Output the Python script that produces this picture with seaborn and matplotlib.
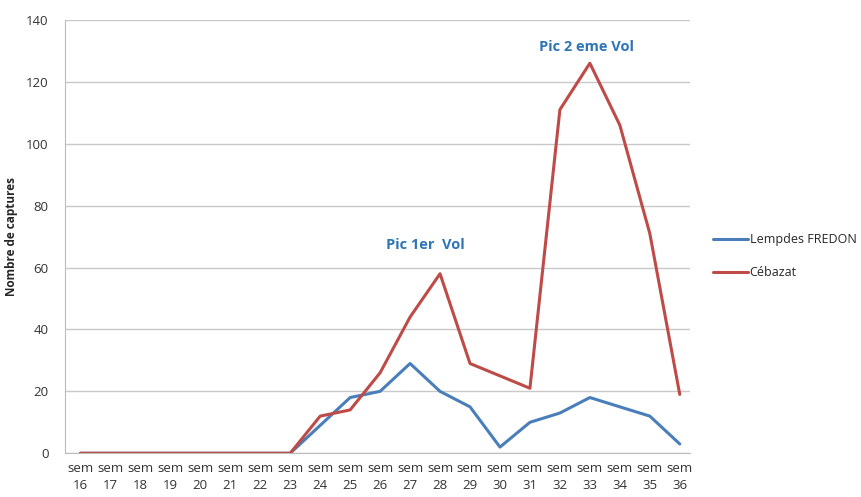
import pandas as pd
import matplotlib.pyplot as plt
import seaborn as sns

weeks = list(range(16, 37))
lempdes = [0, 0, 0, 0, 0, 0, 0, 0, 9, 18, 20, 29, 20, 15, 2, 10, 13, 18, 15, 12, 3]
cebazat = [0, 0, 0, 0, 0, 0, 0, 0, 12, 14, 26, 44, 58, 29, 25, 21, 111, 126, 106, 71, 19]
series_names = ['Lempdes FREDON', 'Cébazat']

df = pd.DataFrame({
    'Semaine': weeks * 2,
    'Captures': lempdes + cebazat,
    'Site': [series_names[0]] * len(weeks) + [series_names[1]] * len(weeks),
})

sns.set_style('white')
plt.rcParams['font.family'] = ['Open Sans', 'DejaVu Sans']

fig, ax = plt.subplots(figsize=(8.61, 4.97), dpi=100)
fig.subplots_adjust(left=0.076, right=0.801, top=0.96, bottom=0.088)

sns.lineplot(data=df, x='Semaine', y='Captures', hue='Site',
             palette=['#4A7EBB', '#BE4B48'], linewidth=2.2, ax=ax)

ax.set_ylim(0, 140)
ax.set_yticks(range(0, 141, 20))
ax.set_xlim(15.5, 36.33)
ax.set_xticks(weeks)
ax.set_xticklabels([f'sem\n{w}' for w in weeks], fontsize=9.5,
                   color='#333333', linespacing=1.45)
ax.tick_params(axis='y', labelsize=9.5, colors='#333333', length=0, pad=12)
ax.tick_params(axis='x', length=0, pad=6)
ax.yaxis.grid(True, color='#C8C8C8', linewidth=1)
ax.set_axisbelow(True)
for side in ['top', 'right']:
    ax.spines[side].set_visible(False)
for side in ['left', 'bottom']:
    ax.spines[side].set_color('#BBBBBB')

ax.set_xlabel('')
ax.set_ylabel('Nombre de captures', fontsize=8.5, fontweight='bold', labelpad=6)

ax.text(27.5, 66, 'Pic 1er  Vol', color='#2E75B6', fontsize=10.5,
        fontweight='bold', ha='center')
ax.text(32.9, 130, 'Pic 2 eme Vol', color='#2E75B6', fontsize=10.5,
        fontweight='bold', ha='center')

ax.legend(title=None, frameon=False, loc='center left',
          bbox_to_anchor=(1.02, 0.455), fontsize=9, handlelength=2.8,
          handletextpad=0.1, labelspacing=1.6)

fig.savefig('out.png', dpi=100)
